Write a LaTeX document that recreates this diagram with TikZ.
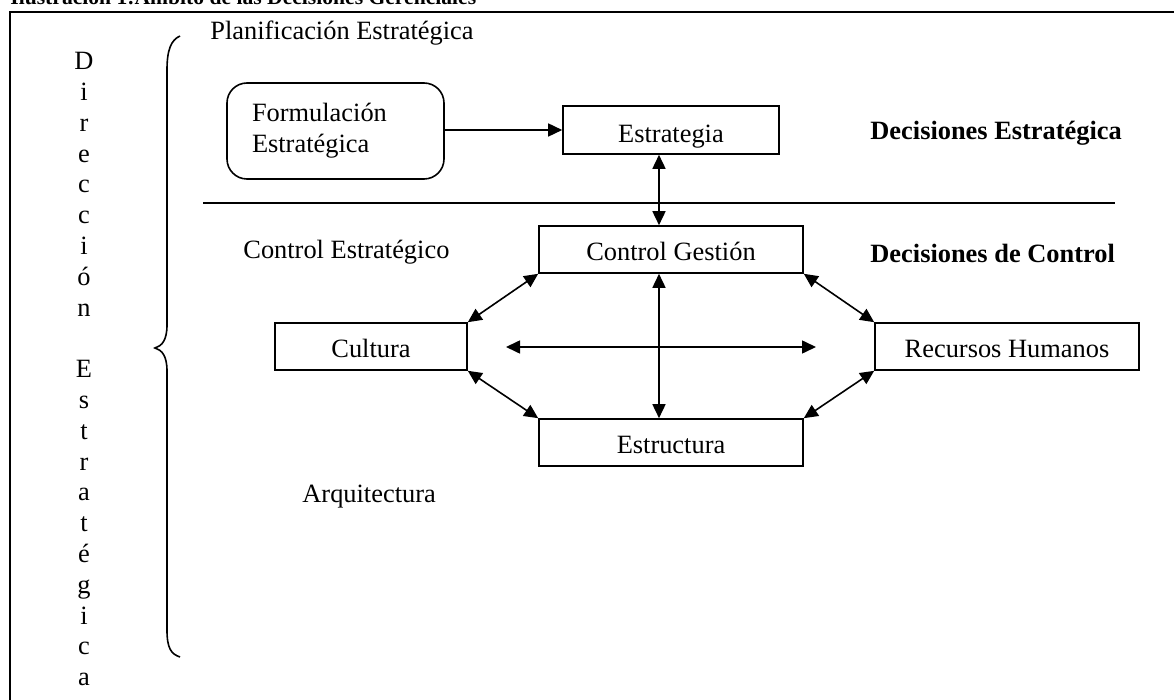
\documentclass[tikz,border=0pt]{standalone}
\usepackage{fontspec}
\setmainfont{Liberation Serif}
\usetikzlibrary{arrows.meta, positioning, calc}
\newcommand{\tamano}{\fontsize{13.2}{15.4}\selectfont}

\tikzset{
  caja/.style={draw, line width=0.8pt, inner sep=0pt, minimum height=23.5pt, text height=11pt, text depth=0pt},
  rotulo/.style={anchor=west, inner sep=0pt},
  dflecha/.style={line width=0.8pt, {Triangle[length=7pt,width=6.5pt]}-{Triangle[length=7pt,width=6.5pt]}},
  flecha/.style={line width=0.8pt, -{Triangle[length=7pt,width=6.5pt]}},
}

\begin{document}
\begin{tikzpicture}[x=0.5pt, y=-0.5pt, every node/.style={font=\tamano}]
                \clip (0,0) rectangle (1174,700);

                % Title and frame
                \node[anchor=base west, inner sep=0pt, font=\fontsize{10.8}{13}\selectfont\bfseries] (titulo) at (10,4.5) {Ilustración 1:Ámbito de las Decisiones Gerenciales};
                \draw[line width=1.2pt] (10,720) -- (10,12) -- (1200,12);

                % Direccion Estrategica
                \node[anchor=north, inner sep=0pt, align=center] (direccion) at (84,52) {D\\i\\r\\e\\c\\c\\i\\ó\\n\\[15.4pt]E\\s\\t\\r\\a\\t\\é\\g\\i\\c\\a};
                \draw[line width=0.8pt] (180,36) .. controls (171,40) and (167,50) .. (167,70) -- (167,325)
                    .. controls (167,340) and (162,346) .. (155,348)
                    .. controls (162,350) and (167,356) .. (167,371) -- (167,630)
                    .. controls (167,648) and (171,654) .. (180,657);

                % Planificacion
                \node[rotulo] (planif) at (210,33) {Planificación Estratégica};
                \node[draw, rounded corners=10pt, line width=0.8pt, minimum height=48pt, text width=83.5pt, inner xsep=12.5pt, align=left] (formul) at (335.5,131) {Formulación\\Estratégica};
                \node[caja, minimum width=108pt, minimum height=24pt, text height=12.5pt] (estrat) at (671,130) {Estrategia};
                \node[rotulo, font=\tamano\bfseries] (decest) at (870,133) {Decisiones Estratégica};
                \draw[flecha] (formul.east |- estrat.west) -- (estrat.west);

                % Separation line
                \draw[line width=0.8pt] (203,203) -- (1115,203);

                % Control
                \node[rotulo] (ctrlest) at (243,252) {Control Estratégico};
                \node[caja, minimum width=132pt] (ctrl) at (671,249.5) {Control Gestión};
                \node[rotulo, font=\tamano\bfseries] (decctrl) at (870,253) {Decisiones de Control};
                \node[caja, minimum width=96pt] (cultura) at (371,346.5) {Cultura};
                \node[caja, minimum width=132pt] (rrhh) at (1007,346.5) {Recursos Humanos};
                \node[caja, minimum width=132pt] (estruc) at (671,442.5) {Estructura};
                \node[rotulo] (arquit) at (302,497) {Arquitectura};

                % Arrows
                \coordinate (eje) at (659,0);
                \coordinate (hizq) at (506,347);
                \coordinate (hder) at (816,347);
                \draw[dflecha] (estrat.south -| eje) -- (ctrl.north -| eje);
                \draw[dflecha] (ctrl.south -| eje) -- (estruc.north -| eje);
                \draw[dflecha] (hizq) -- (hder);
                \draw[dflecha] (cultura.north east) -- (ctrl.south west);
                \draw[dflecha] (cultura.south east) -- (estruc.north west);
                \draw[dflecha] (ctrl.south east) -- (rrhh.north west);
                \draw[dflecha] (estruc.north east) -- (rrhh.south west);
            \end{tikzpicture}
\end{document}
